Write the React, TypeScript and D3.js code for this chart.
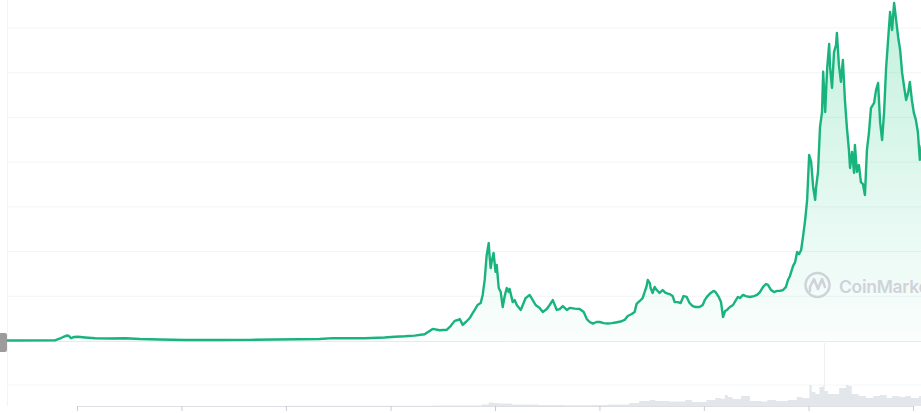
import React, { useEffect, useRef } from 'react';
import * as d3 from 'd3';

// BTC price
const priceDates = [
  "2013-04-07", "2013-10-16", "2013-11-03", "2013-11-17", "2013-11-27", "2013-12-04", "2013-12-11", "2013-12-22",
  "2014-01-04", "2014-01-29", "2014-03-05", "2014-04-26", "2014-06-18", "2014-08-09", "2014-10-18", "2015-01-13",
  "2015-05-16", "2015-08-29", "2015-11-24", "2016-02-18", "2016-04-28", "2016-06-13", "2016-07-25", "2016-10-03",
  "2016-12-11", "2017-01-15", "2017-02-19", "2017-03-26", "2017-04-30", "2017-05-28", "2017-06-22", "2017-07-16",
  "2017-07-30", "2017-08-13", "2017-08-24", "2017-08-31", "2017-09-10", "2017-09-21", "2017-10-05", "2017-10-15",
  "2017-10-22", "2017-11-01", "2017-11-12", "2017-11-19", "2017-11-26", "2017-12-03", "2017-12-06", "2017-12-10",
  "2017-12-13", "2017-12-17", "2017-12-20", "2017-12-27", "2018-01-03", "2018-01-07", "2018-01-14", "2018-01-21",
  "2018-01-28", "2018-02-04", "2018-02-11", "2018-02-18", "2018-02-21", "2018-03-04", "2018-03-11", "2018-03-18",
  "2018-04-01", "2018-04-11", "2018-04-18", "2018-05-02", "2018-05-13", "2018-05-23", "2018-06-06", "2018-06-17",
  "2018-07-01", "2018-07-11", "2018-07-22", "2018-08-05", "2018-08-15", "2018-08-26", "2018-09-09", "2018-09-19",
  "2018-10-07", "2018-10-24", "2018-11-07", "2018-11-18", "2018-11-28", "2018-12-09", "2018-12-22", "2019-01-02",
  "2019-01-16", "2019-01-30", "2019-02-13", "2019-02-27", "2019-03-16", "2019-03-30", "2019-04-10", "2019-04-24",
  "2019-05-04", "2019-05-11", "2019-05-22", "2019-06-01", "2019-06-08", "2019-06-15", "2019-06-19", "2019-06-26",
  "2019-06-29", "2019-07-06", "2019-07-13", "2019-07-20", "2019-07-30", "2019-08-10", "2019-08-20", "2019-09-03",
  "2019-09-14", "2019-09-21", "2019-10-01", "2019-10-12", "2019-10-22", "2019-11-02", "2019-11-12", "2019-11-23",
  "2019-12-03", "2019-12-17", "2019-12-28", "2020-01-04", "2020-01-14", "2020-01-25", "2020-02-04", "2020-02-11",
  "2020-02-22", "2020-03-01", "2020-03-08", "2020-03-15", "2020-03-22", "2020-04-01", "2020-04-12", "2020-04-22",
  "2020-04-29", "2020-05-06", "2020-05-17", "2020-05-27", "2020-06-10", "2020-06-24", "2020-07-05", "2020-07-15",
  "2020-07-26", "2020-08-05", "2020-08-12", "2020-08-23", "2020-09-02", "2020-09-13", "2020-09-23", "2020-10-04",
  "2020-10-14", "2020-10-21", "2020-10-28", "2020-11-08", "2020-11-15", "2020-11-22", "2020-11-29", "2020-12-06",
  "2020-12-13", "2020-12-20", "2020-12-27", "2021-01-03", "2021-01-10", "2021-01-17", "2021-01-24", "2021-01-27",
  "2021-02-03", "2021-02-10", "2021-02-17", "2021-02-21", "2021-02-28", "2021-03-07", "2021-03-14", "2021-03-17",
  "2021-03-24", "2021-03-31", "2021-04-07", "2021-04-10", "2021-04-17", "2021-04-24", "2021-05-01", "2021-05-08",
  "2021-05-15", "2021-05-22", "2021-05-26", "2021-06-02", "2021-06-09", "2021-06-12", "2021-06-19", "2021-06-26",
  "2021-07-03", "2021-07-10", "2021-07-17", "2021-07-24", "2021-07-31", "2021-08-07", "2021-08-18", "2021-08-25",
  "2021-09-01", "2021-09-08", "2021-09-15", "2021-09-22", "2021-09-29", "2021-10-06", "2021-10-13", "2021-10-20",
  "2021-10-27", "2021-11-03", "2021-11-10", "2021-11-17", "2021-11-24", "2021-12-01", "2021-12-08", "2021-12-15",
  "2021-12-21", "2021-12-28", "2022-01-04", "2022-01-11", "2022-01-18", "2022-01-25", "2022-02-01",
];
const priceValues = [
  100, 140, 560, 1000, 1230, 1120, 620, 900,
  940, 780, 600, 560, 620, 450, 340, 220,
  230, 250, 350, 400, 450, 650, 600, 620,
  780, 950, 1050, 1200, 1500, 2700, 2400, 2500,
  3350, 4500, 4700, 4900, 3600, 4250, 5150, 6250,
  6950, 8050, 8500, 10300, 13650, 19250, 20350, 21900,
  19000, 16300, 17650, 19700, 15450, 17000, 11850, 10950,
  7600, 10050, 11850, 10950, 11650, 8700, 9150, 8050,
  6950, 8500, 9600, 10300, 9150, 8050, 7400, 6500,
  7150, 8050, 9150, 6950, 7150, 7800, 6950, 7400,
  7250, 7150, 6500, 4900, 4250, 3900, 4250, 4250,
  4000, 3900, 4000, 4150, 4350, 4700, 5600, 6050,
  6500, 8300, 8950, 9600, 10950, 12300, 13650, 12950,
  11850, 10750, 12100, 11400, 10750, 11400, 10750, 10500,
  10050, 8700, 8700, 8500, 10050, 9850, 8500, 7800,
  7600, 7600, 8050, 9150, 10050, 10750, 11200, 10950,
  9850, 8700, 5350, 6700, 6950, 7600, 8050, 9150,
  9850, 9600, 10300, 10050, 9850, 10050, 10300, 10950,
  12100, 12750, 12550, 11400, 10950, 11200, 11200, 11400,
  12100, 13650, 14550, 16800, 17650, 19900, 19450, 20350,
  23500, 27050, 31550, 41600, 40050, 34450, 31550, 34200,
  37800, 47850, 51200, 60200, 51200, 61050, 66450, 61300,
  56600, 64650, 66200, 68900, 61750, 57950, 62850, 53900,
  47650, 42750, 38700, 42300, 37600, 43850, 37800, 39350,
  35550, 35100, 32650, 42750, 46550, 52100, 53250, 56150,
  57700, 49000, 44950, 51200, 61050, 67350, 73600, 69550,
  75600, 71800, 68000, 65100, 59950, 56800, 53900, 55500,
  57950, 53900, 51000, 49450, 46750, 40500, 43850,
];

// traded volume (billions)
const volumeDates = [
  "2013-04-01", "2016-01-01", "2017-06-01", "2017-11-15", "2017-12-10", "2017-12-25", "2018-01-15", "2018-03-01",
  "2018-06-01", "2018-09-01", "2018-12-01", "2019-02-01", "2019-04-15", "2019-05-20", "2019-06-25", "2019-07-15",
  "2019-09-01", "2019-10-28", "2019-11-20", "2020-01-10", "2020-02-10", "2020-03-01", "2020-03-14", "2020-03-25",
  "2020-04-10", "2020-05-10", "2020-06-10", "2020-07-20", "2020-08-10", "2020-09-10", "2020-10-20", "2020-11-20",
  "2020-12-10", "2021-01-04", "2021-01-12", "2021-01-25", "2021-02-08", "2021-02-22", "2021-02-24", "2021-02-26",
  "2021-03-10", "2021-04-18", "2021-05-12", "2021-05-20", "2021-06-01", "2021-06-25", "2021-07-20", "2021-08-15",
  "2021-09-07", "2021-10-01", "2021-10-20", "2021-11-15", "2021-12-05", "2021-12-25", "2022-01-22", "2022-02-01",
];
const volumeValues = [
  0.1, 0.2, 0.6, 1.5, 3.5, 3, 2.5, 1.5,
  1, 0.8, 1, 1.5, 3, 5, 6, 5,
  4.5, 6, 4, 6, 8, 7, 11, 9,
  7, 10, 5, 4.5, 6, 5, 6, 9,
  8, 21, 14, 12, 19, 21, 63, 15,
  12, 18, 21, 20, 12, 10, 8, 10,
  11, 8, 10, 9, 10, 8, 10, 8,
];

const yearTicks = ["2014-01-01", "2015-01-01", "2016-01-01", "2017-01-01", "2018-01-01", "2019-01-01", "2020-01-01", "2021-01-01", "2022-01-01"];
const priceGrid = [0, 10000, 20000, 30000, 40000, 50000, 60000, 70000];

const W = 921;
const H = 413;

export default function App() {
  const svgRef = useRef<SVGSVGElement>(null);

  useEffect(() => {
    if (!svgRef.current) return;
    const svg = d3.select(svgRef.current);
    svg.selectAll("*").remove();

    const parse = d3.utcParse("%Y-%m-%d");
    const prices = priceDates.map((d, i) => ({ date: parse(d)!, value: priceValues[i] }));
    const volumes = volumeDates.map((d, i) => ({ date: parse(d)!, value: volumeValues[i] }));

    const x = d3.scaleUtc()
      .domain([parse("2014-01-01")!, parse("2022-01-01")!])
      .range([77, 913]);
    const y = d3.scaleLinear().domain([0, 70000]).range([341, 28]);
    const yVol = d3.scaleLinear().domain([0, 63]).range([406, 343]);

    const defs = svg.append("defs");
    const grad = defs.append("linearGradient")
      .attr("id", "areaFill")
      .attr("gradientUnits", "userSpaceOnUse")
      .attr("x1", 0).attr("x2", 0)
      .attr("y1", 0).attr("y2", 341);
    grad.append("stop").attr("offset", "0%").attr("stop-color", "#16c784").attr("stop-opacity", 0.26);
    grad.append("stop").attr("offset", "100%").attr("stop-color", "#16c784").attr("stop-opacity", 0.02);

    svg.append("rect").attr("width", W).attr("height", H).attr("fill", "#fff");

    // Grid lines
    svg.append("g")
      .selectAll("line")
      .data(priceGrid.filter(v => v > 0))
      .enter()
      .append("line")
      .attr("x1", 7).attr("x2", W)
      .attr("y1", d => y(d)).attr("y2", d => y(d))
      .attr("stroke", "#f3f4f6")
      .attr("stroke-width", 1);

    // left edge
    svg.append("line")
      .attr("x1", 7.5).attr("x2", 7.5).attr("y1", 0).attr("y2", 406)
      .attr("stroke", "#f3f4f6");

    // volume strip
    svg.append("line")
      .attr("x1", 7).attr("x2", W).attr("y1", yVol(21)).attr("y2", yVol(21))
      .attr("stroke", "#f5f6f8");

    const volArea = d3.area<{ date: Date; value: number }>()
      .x(d => x(d.date))
      .y0(yVol(0))
      .y1(d => yVol(d.value))
      .curve(d3.curveStepAfter);
    svg.append("path")
      .datum(volumes)
      .attr("d", volArea)
      .attr("fill", "#dce0e6")
      .attr("fill-opacity", 0.8);

    // price area + line
    const area = d3.area<{ date: Date; value: number }>()
      .x(d => x(d.date))
      .y0(y(0))
      .y1(d => y(d.value));
    svg.append("path")
      .datum(prices)
      .attr("d", area)
      .attr("fill", "url(#areaFill)");

    // bottom of price pane
    svg.append("line")
      .attr("x1", 7).attr("x2", W).attr("y1", 341.5).attr("y2", 341.5)
      .attr("stroke", "#e8eaed");

    // watermark
    const wm = svg.append("g").attr("fill", "none").attr("stroke", "#cfd3d9");
    wm.append("circle").attr("cx", 817.5).attr("cy", 285).attr("r", 12).attr("stroke-width", 2.5);
    wm.append("path")
      .attr("d", "M810,291 L810,287 L814,279 L818,289 L822,279 L825,287")
      .attr("stroke-width", 2.5)
      .attr("stroke-linejoin", "round")
      .attr("stroke-linecap", "round");
    svg.append("text")
      .attr("x", 839)
      .attr("y", 293)
      .attr("font-family", "Inter, 'Open Sans', sans-serif")
      .attr("font-size", 17.5)
      .attr("font-weight", 600)
      .attr("letter-spacing", -0.3)
      .attr("fill", "#cfd3d9")
      .text("CoinMarketCap");

    const line = d3.line<{ date: Date; value: number }>()
      .x(d => x(d.date))
      .y(d => y(d.value));
    svg.append("path")
      .datum(prices)
      .attr("d", line)
      .attr("fill", "none")
      .attr("stroke", "#19b37d")
      .attr("stroke-width", 2.4)
      .attr("stroke-linejoin", "round");

    // x axis
    const axis = svg.append("g").attr("transform", "translate(0,406)");
    axis.call(
      d3.axisBottom(x)
        .tickValues(yearTicks.map(d => parse(d)!))
        .tickSize(5)
        .tickFormat(() => "")
    );
    axis.select(".domain").attr("stroke", "#dcdfe3");
    axis.selectAll(".tick line").attr("stroke", "#c8ccd1");

    // price tag stub at the left edge
    svg.append("rect")
      .attr("x", -4).attr("y", 333)
      .attr("width", 11).attr("height", 19)
      .attr("rx", 2)
      .attr("fill", "#9c9c9c");
  }, []);

  return (
    <div style={{ position: "absolute", left: 0, top: 0, width: W, height: H, overflow: "hidden" }}>
      <svg ref={svgRef} width={W} height={H} style={{ display: "block" }} />
    </div>
  );
}
